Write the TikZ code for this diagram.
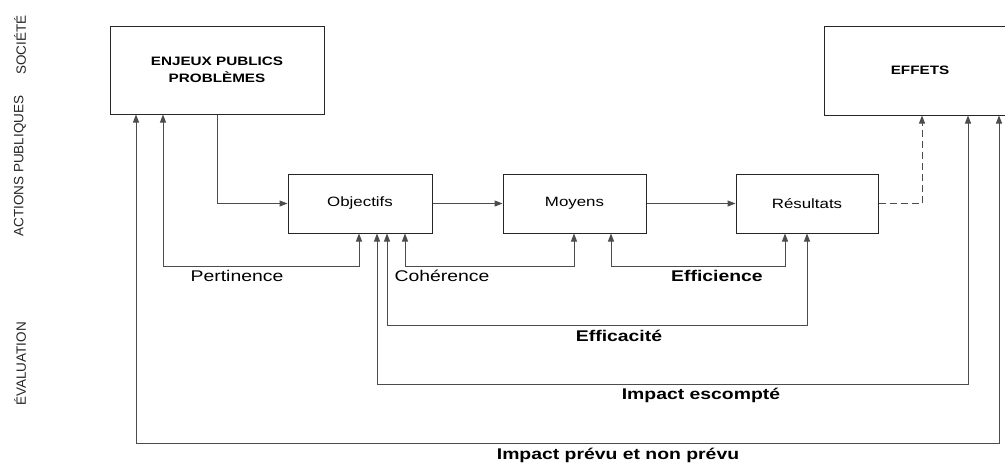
\documentclass[tikz,border=0pt]{standalone}
\usepackage{fontspec}
\setmainfont{Liberation Sans}[FakeStretch=1.25]
\newfontfamily\vfont{Liberation Sans}
\usetikzlibrary{arrows.meta}
\begin{document}
\begin{tikzpicture}[x=1pt,y=-1pt,
  box/.style={draw=black!85,line width=1pt,inner sep=0pt,align=center},
  conn/.style={draw=black!70,line width=1pt,-{Triangle[length=8pt,width=6pt]}},
  both/.style={draw=black!70,line width=1pt,{Triangle[length=8pt,width=6pt]}-{Triangle[length=8pt,width=6pt]}},
  boxfont/.style={font=\fontsize{13.5}{16}\selectfont},
  bigfont/.style={font=\fontsize{12.2}{16.5}\selectfont\bfseries},
  lab/.style={inner sep=0pt,font=\fontsize{15.5}{18}\selectfont},
  blab/.style={inner sep=0pt,font=\fontsize{15.5}{18}\selectfont\bfseries},
  side/.style={inner sep=0pt,rotate=90,text=black!85,font=\vfont\fontsize{13.5}{15}\selectfont}]
\useasboundingbox (0,0) rectangle (1005,464);
\clip (0,0) rectangle (1005,464);
% side labels
\node[side] (soc) at (20,45) {SOCIÉTÉ};
\node[side] (act) at (20,166) {ACTIONS PUBLIQUES};
\node[side] (eva) at (20,364) {ÉVALUATION};
% boxes
\node[box,bigfont,minimum width=214pt,minimum height=88pt] (enj) at (217,70) {ENJEUX PUBLICS\\PROBLÈMES};
\node[box,bigfont,minimum width=192pt,minimum height=89pt] (eff) at (920,70.5) {EFFETS};
\node[box,boxfont,minimum width=144pt,minimum height=59pt] (obj) at (360,203.5) {Objectifs};
\node[box,boxfont,minimum width=143pt,minimum height=59pt] (moy) at (574.5,203.5) {Moyens};
\node[box,boxfont,minimum width=142pt,minimum height=59pt] (res) at (807,203.5) {Résultats};
% main flow
\draw[conn] (enj.south) |- (obj.west);
\draw[conn] (obj.east) -- (moy.west);
\draw[conn] (moy.east) -- (res.west);
\draw[conn,dash pattern=on 7pt off 4pt] (res.east) -| ([xshift=2pt]eff.south);
% evaluation loops
\draw[both] ([xshift=-1pt]obj.south) -- ++(0,33) -| ([xshift=-54pt]enj.south);
\draw[both] ([xshift=45pt]obj.south) -- ++(0,33) -| ([xshift=-0.5pt]moy.south);
\draw[both] ([xshift=36.5pt]moy.south) -- ++(0,33) -| ([xshift=-22pt]res.south);
\draw[both] ([xshift=27pt]obj.south) -- ++(0,92) -| (res.south);
\draw[both] ([xshift=17pt]obj.south) -- ++(0,151) -| ([xshift=48pt]eff.south);
\draw[both] ([xshift=-81pt]enj.south) -- ++(0,329) -| ([xshift=79pt]eff.south);
% labels
\node[lab] (lper) at (237,276) {Pertinence};
\node[lab] (lcoh) at (442,276) {Cohérence};
\node[blab] (leffi) at (717,276) {Efficience};
\node[blab] (leffa) at (619,336) {Efficacité};
\node[blab] (lesc) at (701,395) {Impact escompté};
\node[blab] (lprev) at (618,455) {Impact prévu et non prévu};
\end{tikzpicture}
\end{document}
